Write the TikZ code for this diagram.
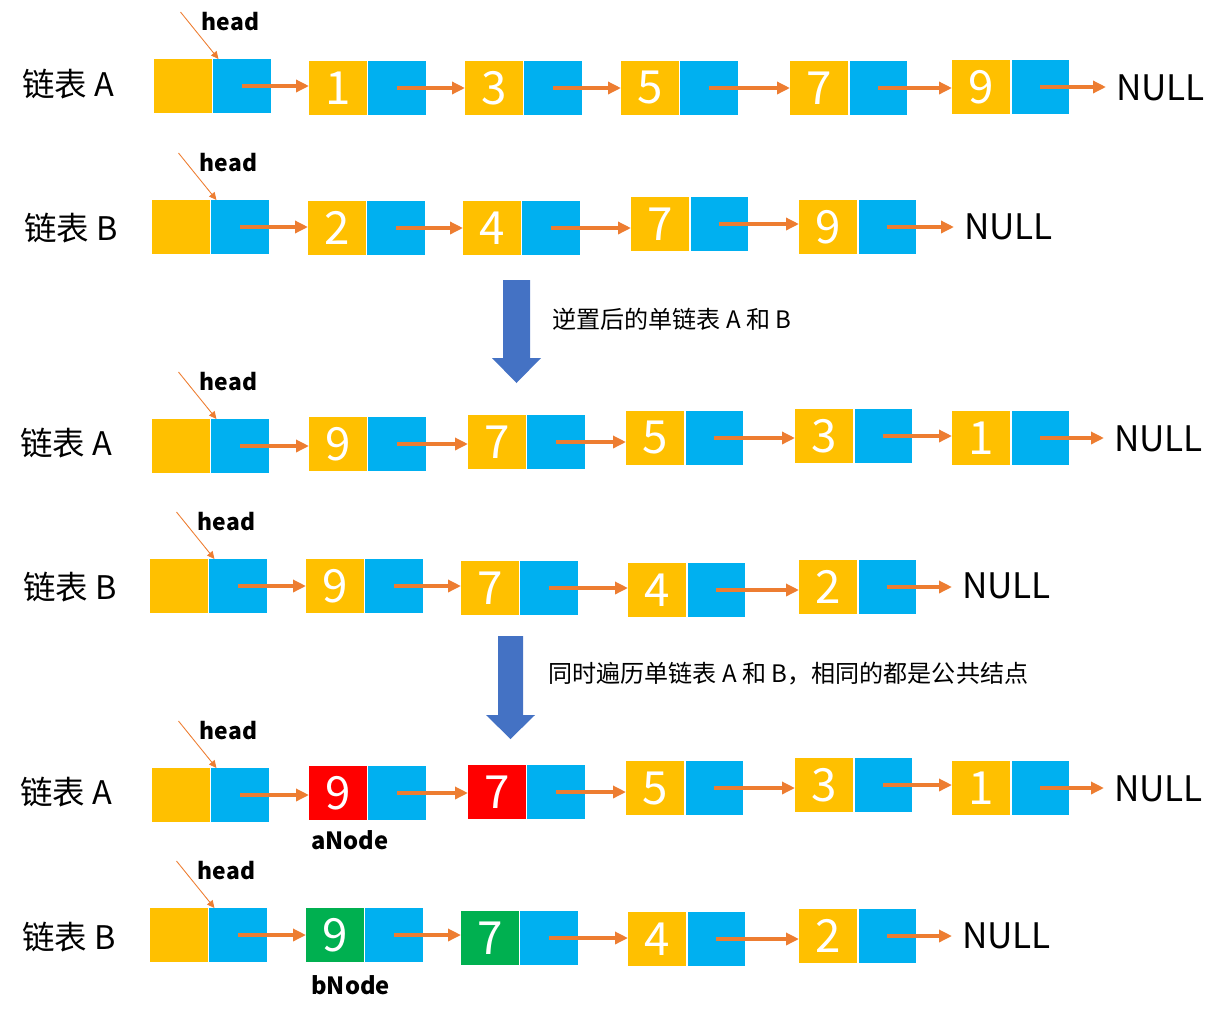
\documentclass[tikz,border=0pt]{standalone}
\usepackage{fontspec}
\setmainfont{Noto Sans CJK SC}
\usetikzlibrary{arrows.meta,positioning}

\definecolor{boxyellow}{HTML}{FFC000}
\definecolor{boxblue}{HTML}{00B0F0}
\definecolor{linkorange}{HTML}{ED7D31}
\definecolor{hitred}{HTML}{FF0000}
\definecolor{hitgreen}{HTML}{00B050}
\definecolor{bigblue}{HTML}{4472C4}

% one list node: name, x, y, value, colour
\newcommand{\lnode}[5]{%
  \node[valbox,fill=#5] (#1v) at (#2,#3) {#4};
  \node[ptrbox,right=0.03cm of #1v] (#1p) {};}
% head node with its pointer
\newcommand{\headnode}[3]{%
  \lnode{#1}{#2}{#3}{}{boxyellow}
  \coordinate (#1t) at ([shift={(-33,-47)}]#1p.north west);
  \node[headlbl] (#1l) at ([shift={(-12,-37)}]#1p.north west) {head};
  \draw[headptr] (#1t) -- ([shift={(5,0)}]#1p.north west);}
\newcommand{\nextlink}[2]{\draw[link] (#1p.center) -- (#2v.west |- #1p.center);}

\begin{document}
\begin{tikzpicture}[x=0.02cm,y=-0.02cm,
    valbox/.style={minimum width=1.16cm,minimum height=1.08cm,inner sep=0pt,outer sep=0pt,
      text=white,font=\fontsize{26}{26}\selectfont},
    ptrbox/.style={valbox,fill=boxblue},
    headlbl/.style={anchor=west,inner sep=0pt,font=\bfseries\fontsize{13}{13}\selectfont},
    headptr/.style={-{Triangle[length=0.15cm,width=0.14cm]},draw=linkorange,line width=0.5pt},
    link/.style={-{Triangle[length=0.26cm,width=0.24cm]},draw=linkorange,line width=2.3pt},
    listlbl/.style={anchor=west,inner sep=0pt,font=\fontsize{18.5}{18.5}\selectfont},
    nulllbl/.style={anchor=west,inner xsep=5.5pt,inner ysep=2pt,font=\fontsize{20}{20}\selectfont},
    note/.style={anchor=west,inner sep=0pt,font=\fontsize{13.7}{13.7}\selectfont},
    tag/.style={anchor=west,inner sep=0pt,font=\bfseries\fontsize{13.5}{13.5}\selectfont}]
  \useasboundingbox (0,0) rectangle (1228,1015);

  % list A
  \node[listlbl] (la1) at (22,84) {链表 A};
  \headnode{a1h}{183}{86}
  \lnode{a1n1}{338}{88}{1}{boxyellow}
  \lnode{a1n3}{494}{88}{3}{boxyellow}
  \lnode{a1n5}{650}{88}{5}{boxyellow}
  \lnode{a1n7}{819}{88}{7}{boxyellow}
  \lnode{a1n9}{981}{87}{9}{boxyellow}
  \node[nulllbl] (a1null) at (1106,88) {NULL};
  \nextlink{a1h}{a1n1} \nextlink{a1n1}{a1n3} \nextlink{a1n3}{a1n5}
  \nextlink{a1n5}{a1n7} \nextlink{a1n7}{a1n9}
  \draw[link] (a1n9p.center) -- (a1null.west |- a1n9p.center);

  % list B
  \node[listlbl] (lb1) at (24,228) {链表 B};
  \headnode{b1h}{181}{227}
  \lnode{b1n2}{337}{228}{2}{boxyellow}
  \lnode{b1n4}{492}{228}{4}{boxyellow}
  \lnode{b1n7}{660}{224}{7}{boxyellow}
  \lnode{b1n9}{828}{227}{9}{boxyellow}
  \node[nulllbl] (b1null) at (954,227) {NULL};
  \nextlink{b1h}{b1n2} \nextlink{b1n2}{b1n4} \nextlink{b1n4}{b1n7}
  \nextlink{b1n7}{b1n9}
  \draw[link] (b1n9p.center) -- (b1null.west |- b1n9p.center);

  % first step
  \fill[bigblue] (503,280) -- (530,280) -- (530,358) -- (541,358) -- (516.5,383)
    -- (492,358) -- (503,358) -- cycle;
  \node[note] (step1) at (552,319) {逆置后的单链表 A 和 B};

  % reversed A
  \node[listlbl] (la2) at (20,443) {链表 A};
  \headnode{a2h}{181}{446}
  \lnode{a2n9}{338}{444}{9}{boxyellow}
  \lnode{a2n7}{497}{442}{7}{boxyellow}
  \lnode{a2n5}{655}{438}{5}{boxyellow}
  \lnode{a2n3}{824}{436}{3}{boxyellow}
  \lnode{a2n1}{981}{438}{1}{boxyellow}
  \node[nulllbl] (a2null) at (1104,439) {NULL};
  \nextlink{a2h}{a2n9} \nextlink{a2n9}{a2n7} \nextlink{a2n7}{a2n5}
  \nextlink{a2n5}{a2n3} \nextlink{a2n3}{a2n1}
  \draw[link] (a2n1p.center) -- (a2null.west |- a2n1p.center);

  % reversed B
  \node[listlbl] (lb2) at (23,587) {链表 B};
  \headnode{b2h}{179}{586}
  \lnode{b2n9}{335}{586}{9}{boxyellow}
  \lnode{b2n7}{490}{588}{7}{boxyellow}
  \lnode{b2n4}{657}{590}{4}{boxyellow}
  \lnode{b2n2}{828}{587}{2}{boxyellow}
  \node[nulllbl] (b2null) at (952,586) {NULL};
  \nextlink{b2h}{b2n9} \nextlink{b2n9}{b2n7} \nextlink{b2n7}{b2n4}
  \nextlink{b2n4}{b2n2}
  \draw[link] (b2n2p.center) -- (b2null.west |- b2n2p.center);

  % second step
  \fill[bigblue] (498,636) -- (523,636) -- (523,715) -- (535,715) -- (510.5,739)
    -- (486,715) -- (498,715) -- cycle;
  \node[note] (step2) at (548,674) {同时遍历单链表 A 和 B，相同的都是公共结点};

  % walk over A
  \node[listlbl] (la3) at (20,792) {链表 A};
  \headnode{a3h}{181}{795}
  \lnode{a3n9}{338}{793}{9}{hitred}
  \lnode{a3n7}{497}{792}{7}{hitred}
  \lnode{a3n5}{655}{788}{5}{boxyellow}
  \lnode{a3n3}{824}{785}{3}{boxyellow}
  \lnode{a3n1}{981}{788}{1}{boxyellow}
  \node[nulllbl] (a3null) at (1104,789) {NULL};
  \nextlink{a3h}{a3n9} \nextlink{a3n9}{a3n7} \nextlink{a3n7}{a3n5}
  \nextlink{a3n5}{a3n3} \nextlink{a3n3}{a3n1}
  \draw[link] (a3n1p.center) -- (a3null.west |- a3n1p.center);
  \node[tag] (anode) at ([shift={(2,20)}]a3n9v.south west) {aNode};

  % walk over B
  \node[listlbl] (lb3) at (22,937) {链表 B};
  \headnode{b3h}{179}{935}
  \lnode{b3n9}{335}{935}{9}{hitgreen}
  \lnode{b3n7}{490}{938}{7}{hitgreen}
  \lnode{b3n4}{657}{939}{4}{boxyellow}
  \lnode{b3n2}{828}{936}{2}{boxyellow}
  \node[nulllbl] (b3null) at (952,936) {NULL};
  \nextlink{b3h}{b3n9} \nextlink{b3n9}{b3n7} \nextlink{b3n7}{b3n4}
  \nextlink{b3n4}{b3n2}
  \draw[link] (b3n2p.center) -- (b3null.west |- b3n2p.center);
  \node[tag] (bnode) at ([shift={(5,23)}]b3n9v.south west) {bNode};
\end{tikzpicture}
\end{document}
